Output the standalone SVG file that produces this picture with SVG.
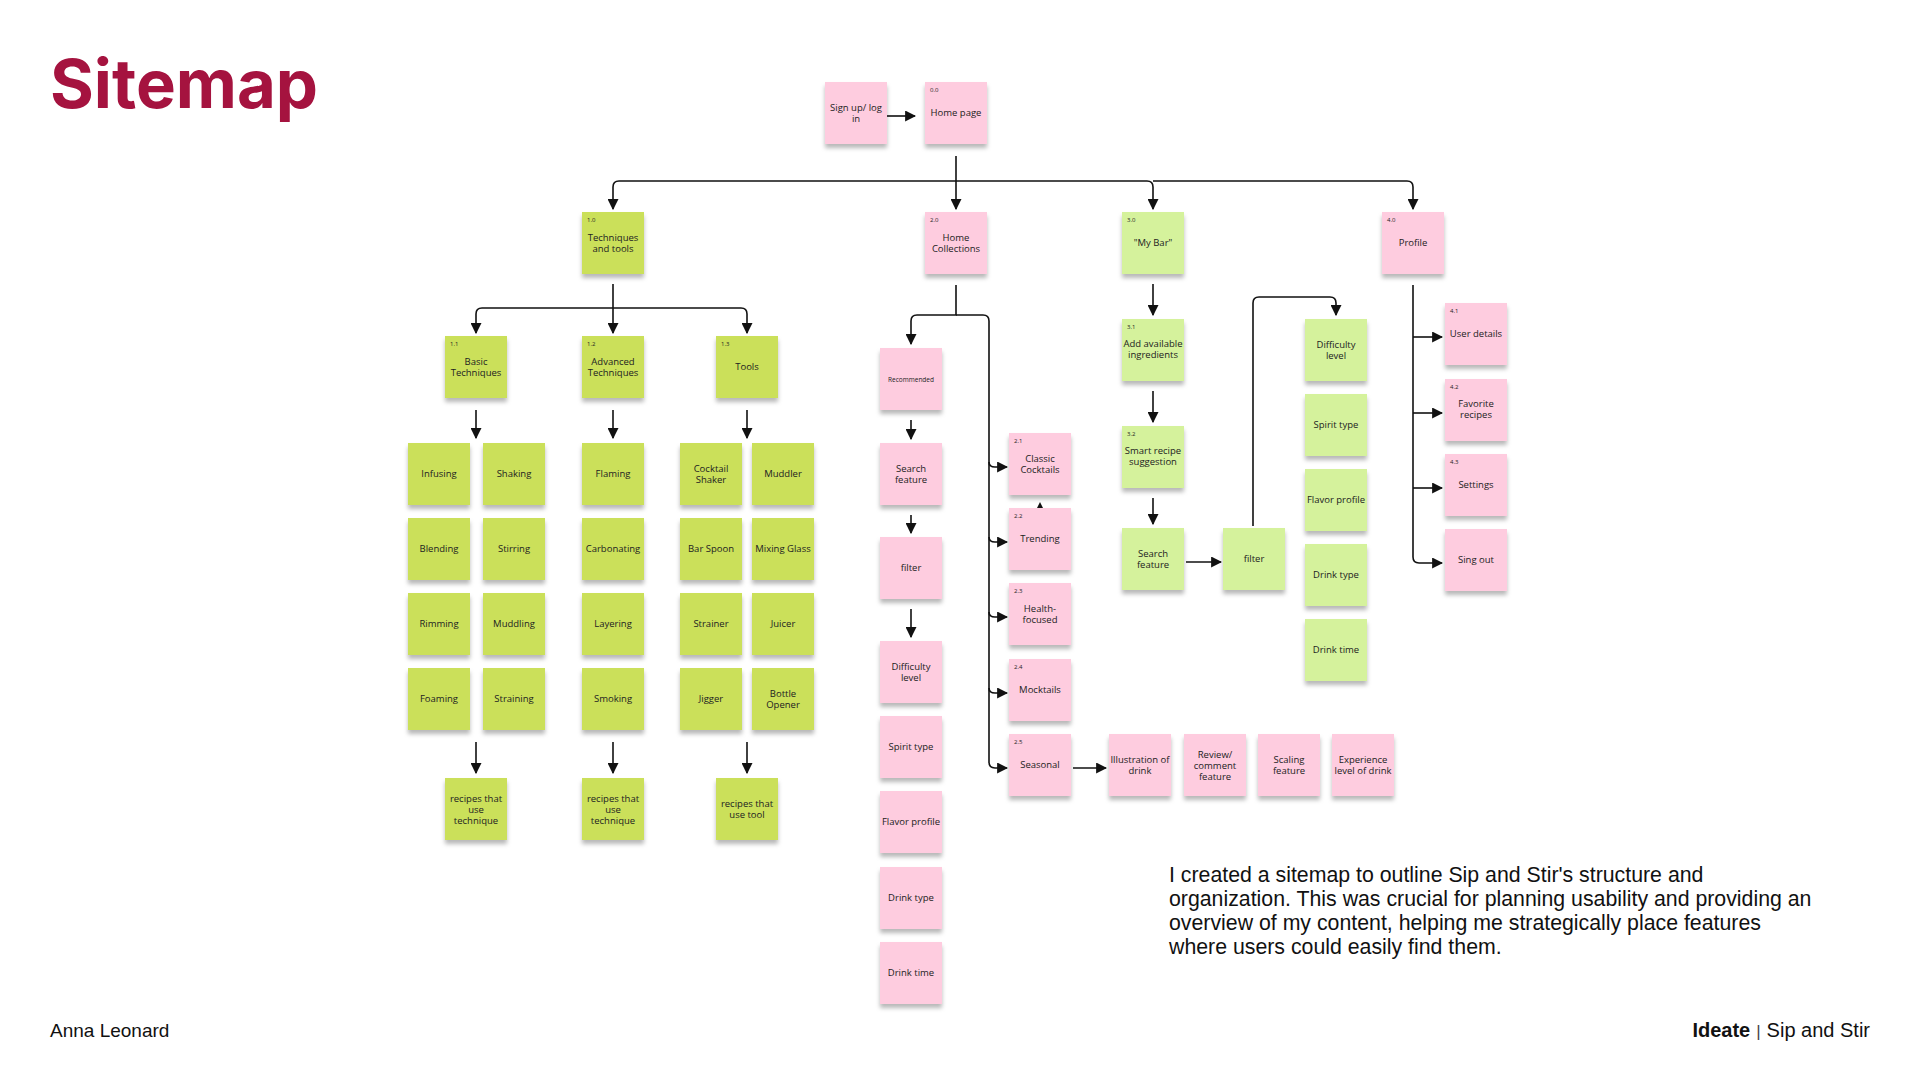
<svg xmlns="http://www.w3.org/2000/svg" width="1920" height="1080" viewBox="0 0 1920 1080">
<defs>
<filter id="sh" x="-20%" y="-20%" width="140%" height="150%">
<feDropShadow dx="0" dy="4" stdDeviation="2" flood-color="#000" flood-opacity="0.28"/>
</filter>
<marker id="ah" markerUnits="userSpaceOnUse" markerWidth="11" markerHeight="11" viewBox="0 0 10 10" refX="9" refY="5" orient="auto">
<path d="M0,0 L10,5 L0,10 z" fill="#111"/>
</marker>
<style>
.s{filter:url(#sh);}
.pk{fill:#FECCDF;}
.lg{fill:#CBE05A;}
.lt{fill:#D5F29C;}
.t{font-family:"Open Sans","Noto Sans",sans-serif;font-size:9.5px;fill:#222;text-anchor:middle;}
.sm{font-size:6.5px;}
.n{font-family:"Open Sans","Noto Sans",sans-serif;font-size:6px;fill:#222;}
.c{fill:none;stroke:#111;stroke-width:1.6;marker-end:url(#ah);}
</style>
</defs>
<rect width="1920" height="1080" fill="#fff"/>

<text x="50" y="108" font-family="Inter, 'Liberation Sans', sans-serif" font-weight="700" font-size="67" fill="#A5133F">Sitemap</text>
<text x="50" y="1037" font-family="'Liberation Sans', Arial, sans-serif" font-size="19" fill="#111">Anna Leonard</text>
<text x="1870" y="1037" text-anchor="end" font-family="'Liberation Sans', Arial, sans-serif" font-size="20" fill="#111"><tspan font-weight="700">Ideate</tspan><tspan fill="#444" font-size="17" dx="6">|</tspan><tspan dx="6">Sip and Stir</tspan></text>
<text font-family="'Liberation Sans', Arial, sans-serif" font-size="21.3" fill="#111">
<tspan x="1169" y="882">I created a sitemap to outline Sip and Stir's structure and</tspan>
<tspan x="1169" y="906">organization. This was crucial for planning usability and providing an</tspan>
<tspan x="1169" y="930">overview of my content, helping me strategically place features</tspan>
<tspan x="1169" y="954">where users could easily find them.</tspan>
</text>

<g id="connectors">
<path class="c" d="M887 116 L915 116"/>
<path class="c" d="M956 156 L956 209"/>
<path class="c" d="M956 181 L619 181 Q613 181 613 187 L613 209"/>
<path class="c" d="M956 181 L1147 181 Q1153 181 1153 187 L1153 209"/>
<path class="c" d="M1153 181 L1407 181 Q1413 181 1413 187 L1413 209"/>
<path class="c" d="M613 284 L613 333"/>
<path class="c" d="M613 308 L482 308 Q476 308 476 314 L476 333"/>
<path class="c" d="M613 308 L741 308 Q747 308 747 314 L747 333"/>
<path class="c" d="M476 410 L476 438"/>
<path class="c" d="M613 410 L613 438"/>
<path class="c" d="M747 410 L747 438"/>
<path class="c" d="M476 742 L476 773"/>
<path class="c" d="M613 742 L613 773"/>
<path class="c" d="M747 742 L747 773"/>
<path class="c" d="M956 285 L956 315 L917 315 Q911 315 911 321 L911 344"/>
<path class="c" d="M956 315 L983 315 Q989 315 989 321 L989 762 Q989 768 995 768 L1007 768"/>
<path class="c" d="M989 462 Q989 467 995 467 L1007 467"/>
<path class="c" d="M989 537 Q989 542 995 542 L1007 542"/>
<path class="c" d="M989 612 Q989 617 995 617 L1007 617"/>
<path class="c" d="M989 688 Q989 693 995 693 L1007 693"/>
<path d="M1035.5 511 L1040 502 L1044.5 511 z" fill="#111"/>
<path class="c" d="M911 420 L911 439"/>
<path class="c" d="M911 515 L911 533"/>
<path class="c" d="M911 609 L911 637"/>
<path class="c" d="M1073 768 L1106 768"/>
<path class="c" d="M1153 284 L1153 315"/>
<path class="c" d="M1153 391 L1153 422"/>
<path class="c" d="M1153 498 L1153 524"/>
<path class="c" d="M1186 562 L1221 562"/>
<path class="c" d="M1253 526 L1253 303 Q1253 297 1259 297 L1330 297 Q1336 297 1336 303 L1336 315"/>
<path class="c" d="M1413 285 L1413 557 Q1413 563 1419 563 L1442 563"/>
<path class="c" d="M1413 337 L1442 337"/>
<path class="c" d="M1413 413 L1442 413"/>
<path class="c" d="M1413 488 L1442 488"/>
</g>

<g id="n-signup"><rect class="s pk" x="825" y="82" width="62" height="62"/><text class="t"><tspan x="856" y="111">Sign up/ log</tspan><tspan x="856" y="122">in</tspan></text></g>
<g id="n-home"><rect class="s pk" x="925" y="82" width="62" height="62"/><text class="n" x="930" y="92">0.0</text><text class="t" x="956" y="116">Home page</text></g>

<g id="n-tech"><rect class="s lg" x="582" y="212" width="62" height="62"/><text class="n" x="587" y="222">1.0</text><text class="t"><tspan x="613" y="241">Techniques</tspan><tspan x="613" y="252">and tools</tspan></text></g>
<g id="n-coll"><rect class="s pk" x="925" y="212" width="62" height="62"/><text class="n" x="930" y="222">2.0</text><text class="t"><tspan x="956" y="241">Home</tspan><tspan x="956" y="252">Collections</tspan></text></g>
<g id="n-mybar"><rect class="s lt" x="1122" y="212" width="62" height="62"/><text class="n" x="1127" y="222">3.0</text><text class="t" x="1153" y="246">"My Bar"</text></g>
<g id="n-profile"><rect class="s pk" x="1382" y="212" width="62" height="62"/><text class="n" x="1387" y="222">4.0</text><text class="t" x="1413" y="246">Profile</text></g>

<g id="n-basic"><rect class="s lg" x="445" y="336" width="62" height="62"/><text class="n" x="450" y="346">1.1</text><text class="t"><tspan x="476" y="365">Basic</tspan><tspan x="476" y="376">Techniques</tspan></text></g>
<g id="n-adv"><rect class="s lg" x="582" y="336" width="62" height="62"/><text class="n" x="587" y="346">1.2</text><text class="t"><tspan x="613" y="365">Advanced</tspan><tspan x="613" y="376">Techniques</tspan></text></g>
<g id="n-tools"><rect class="s lg" x="716" y="336" width="62" height="62"/><text class="n" x="721" y="346">1.3</text><text class="t" x="747" y="370">Tools</text></g>

<g id="n-infusing"><rect class="s lg" x="408" y="443" width="62" height="62"/><text class="t" x="439" y="477">Infusing</text></g>
<g id="n-shaking"><rect class="s lg" x="483" y="443" width="62" height="62"/><text class="t" x="514" y="477">Shaking</text></g>
<g id="n-blending"><rect class="s lg" x="408" y="518" width="62" height="62"/><text class="t" x="439" y="552">Blending</text></g>
<g id="n-stirring"><rect class="s lg" x="483" y="518" width="62" height="62"/><text class="t" x="514" y="552">Stirring</text></g>
<g id="n-rimming"><rect class="s lg" x="408" y="593" width="62" height="62"/><text class="t" x="439" y="627">Rimming</text></g>
<g id="n-muddling"><rect class="s lg" x="483" y="593" width="62" height="62"/><text class="t" x="514" y="627">Muddling</text></g>
<g id="n-foaming"><rect class="s lg" x="408" y="668" width="62" height="62"/><text class="t" x="439" y="702">Foaming</text></g>
<g id="n-straining"><rect class="s lg" x="483" y="668" width="62" height="62"/><text class="t" x="514" y="702">Straining</text></g>

<g id="n-flaming"><rect class="s lg" x="582" y="443" width="62" height="62"/><text class="t" x="613" y="477">Flaming</text></g>
<g id="n-carbonating"><rect class="s lg" x="582" y="518" width="62" height="62"/><text class="t" x="613" y="552">Carbonating</text></g>
<g id="n-layering"><rect class="s lg" x="582" y="593" width="62" height="62"/><text class="t" x="613" y="627">Layering</text></g>
<g id="n-smoking"><rect class="s lg" x="582" y="668" width="62" height="62"/><text class="t" x="613" y="702">Smoking</text></g>

<g id="n-shaker"><rect class="s lg" x="680" y="443" width="62" height="62"/><text class="t"><tspan x="711" y="472">Cocktail</tspan><tspan x="711" y="483">Shaker</tspan></text></g>
<g id="n-muddler"><rect class="s lg" x="752" y="443" width="62" height="62"/><text class="t" x="783" y="477">Muddler</text></g>
<g id="n-barspoon"><rect class="s lg" x="680" y="518" width="62" height="62"/><text class="t" x="711" y="552">Bar Spoon</text></g>
<g id="n-mixing"><rect class="s lg" x="752" y="518" width="62" height="62"/><text class="t" x="783" y="552">Mixing Glass</text></g>
<g id="n-strainer"><rect class="s lg" x="680" y="593" width="62" height="62"/><text class="t" x="711" y="627">Strainer</text></g>
<g id="n-juicer"><rect class="s lg" x="752" y="593" width="62" height="62"/><text class="t" x="783" y="627">Juicer</text></g>
<g id="n-jigger"><rect class="s lg" x="680" y="668" width="62" height="62"/><text class="t" x="711" y="702">Jigger</text></g>
<g id="n-opener"><rect class="s lg" x="752" y="668" width="62" height="62"/><text class="t"><tspan x="783" y="697">Bottle</tspan><tspan x="783" y="708">Opener</tspan></text></g>

<g id="n-rec1"><rect class="s lg" x="445" y="778" width="62" height="62"/><text class="t"><tspan x="476" y="802">recipes that</tspan><tspan x="476" y="813">use</tspan><tspan x="476" y="824">technique</tspan></text></g>
<g id="n-rec2"><rect class="s lg" x="582" y="778" width="62" height="62"/><text class="t"><tspan x="613" y="802">recipes that</tspan><tspan x="613" y="813">use</tspan><tspan x="613" y="824">technique</tspan></text></g>
<g id="n-rec3"><rect class="s lg" x="716" y="778" width="62" height="62"/><text class="t"><tspan x="747" y="807">recipes that</tspan><tspan x="747" y="818">use tool</tspan></text></g>

<g id="n-recommended"><rect class="s pk" x="880" y="348" width="62" height="62"/><text class="t sm" x="911" y="382">Recommended</text></g>
<g id="n-search"><rect class="s pk" x="880" y="443" width="62" height="62"/><text class="t"><tspan x="911" y="472">Search</tspan><tspan x="911" y="483">feature</tspan></text></g>
<g id="n-filter"><rect class="s pk" x="880" y="537" width="62" height="62"/><text class="t" x="911" y="571">filter</text></g>
<g id="n-difficulty"><rect class="s pk" x="880" y="641" width="62" height="62"/><text class="t"><tspan x="911" y="670">Difficulty</tspan><tspan x="911" y="681">level</tspan></text></g>
<g id="n-spirit"><rect class="s pk" x="880" y="716" width="62" height="62"/><text class="t" x="911" y="750">Spirit type</text></g>
<g id="n-flavor"><rect class="s pk" x="880" y="791" width="62" height="62"/><text class="t" x="911" y="825">Flavor profile</text></g>
<g id="n-drinktype"><rect class="s pk" x="880" y="867" width="62" height="62"/><text class="t" x="911" y="901">Drink type</text></g>
<g id="n-drinktime"><rect class="s pk" x="880" y="942" width="62" height="62"/><text class="t" x="911" y="976">Drink time</text></g>

<g id="n-classic"><rect class="s pk" x="1009" y="433" width="62" height="62"/><text class="n" x="1014" y="443">2.1</text><text class="t"><tspan x="1040" y="462">Classic</tspan><tspan x="1040" y="473">Cocktails</tspan></text></g>
<g id="n-trending"><rect class="s pk" x="1009" y="508" width="62" height="62"/><text class="n" x="1014" y="518">2.2</text><text class="t" x="1040" y="542">Trending</text></g>
<g id="n-health"><rect class="s pk" x="1009" y="583" width="62" height="62"/><text class="n" x="1014" y="593">2.3</text><text class="t"><tspan x="1040" y="612">Health-</tspan><tspan x="1040" y="623">focused</tspan></text></g>
<g id="n-mocktails"><rect class="s pk" x="1009" y="659" width="62" height="62"/><text class="n" x="1014" y="669">2.4</text><text class="t" x="1040" y="693">Mocktails</text></g>
<g id="n-seasonal"><rect class="s pk" x="1009" y="734" width="62" height="62"/><text class="n" x="1014" y="744">2.5</text><text class="t" x="1040" y="768">Seasonal</text></g>

<g id="n-illustration"><rect class="s pk" x="1109" y="734" width="62" height="62"/><text class="t"><tspan x="1140" y="763">Illustration of</tspan><tspan x="1140" y="774">drink</tspan></text></g>
<g id="n-review"><rect class="s pk" x="1184" y="734" width="62" height="62"/><text class="t"><tspan x="1215" y="758">Review/</tspan><tspan x="1215" y="769">comment</tspan><tspan x="1215" y="780">feature</tspan></text></g>
<g id="n-scaling"><rect class="s pk" x="1258" y="734" width="62" height="62"/><text class="t"><tspan x="1289" y="763">Scaling</tspan><tspan x="1289" y="774">feature</tspan></text></g>
<g id="n-experience"><rect class="s pk" x="1332" y="734" width="62" height="62"/><text class="t"><tspan x="1363" y="763">Experience</tspan><tspan x="1363" y="774">level of drink</tspan></text></g>

<g id="n-add"><rect class="s lt" x="1122" y="319" width="62" height="62"/><text class="n" x="1127" y="329">3.1</text><text class="t"><tspan x="1153" y="347">Add available</tspan><tspan x="1153" y="358">ingredients</tspan></text></g>
<g id="n-smart"><rect class="s lt" x="1122" y="426" width="62" height="62"/><text class="n" x="1127" y="436">3.2</text><text class="t"><tspan x="1153" y="454">Smart recipe</tspan><tspan x="1153" y="465">suggestion</tspan></text></g>
<g id="n-search2"><rect class="s lt" x="1122" y="528" width="62" height="62"/><text class="t"><tspan x="1153" y="557">Search</tspan><tspan x="1153" y="568">feature</tspan></text></g>
<g id="n-filter2"><rect class="s lt" x="1223" y="528" width="62" height="62"/><text class="t" x="1254" y="562">filter</text></g>

<g id="n-gdifficulty"><rect class="s lt" x="1305" y="319" width="62" height="62"/><text class="t"><tspan x="1336" y="348">Difficulty</tspan><tspan x="1336" y="359">level</tspan></text></g>
<g id="n-gspirit"><rect class="s lt" x="1305" y="394" width="62" height="62"/><text class="t" x="1336" y="428">Spirit type</text></g>
<g id="n-gflavor"><rect class="s lt" x="1305" y="469" width="62" height="62"/><text class="t" x="1336" y="503">Flavor profile</text></g>
<g id="n-gdrinktype"><rect class="s lt" x="1305" y="544" width="62" height="62"/><text class="t" x="1336" y="578">Drink type</text></g>
<g id="n-gdrinktime"><rect class="s lt" x="1305" y="619" width="62" height="62"/><text class="t" x="1336" y="653">Drink time</text></g>

<g id="n-user"><rect class="s pk" x="1445" y="303" width="62" height="62"/><text class="n" x="1450" y="313">4.1</text><text class="t" x="1476" y="337">User details</text></g>
<g id="n-fav"><rect class="s pk" x="1445" y="379" width="62" height="62"/><text class="n" x="1450" y="389">4.2</text><text class="t"><tspan x="1476" y="407">Favorite</tspan><tspan x="1476" y="418">recipes</tspan></text></g>
<g id="n-settings"><rect class="s pk" x="1445" y="454" width="62" height="62"/><text class="n" x="1450" y="464">4.3</text><text class="t" x="1476" y="488">Settings</text></g>
<g id="n-singout"><rect class="s pk" x="1445" y="529" width="62" height="62"/><text class="t" x="1476" y="563">Sing out</text></g>
</svg>
